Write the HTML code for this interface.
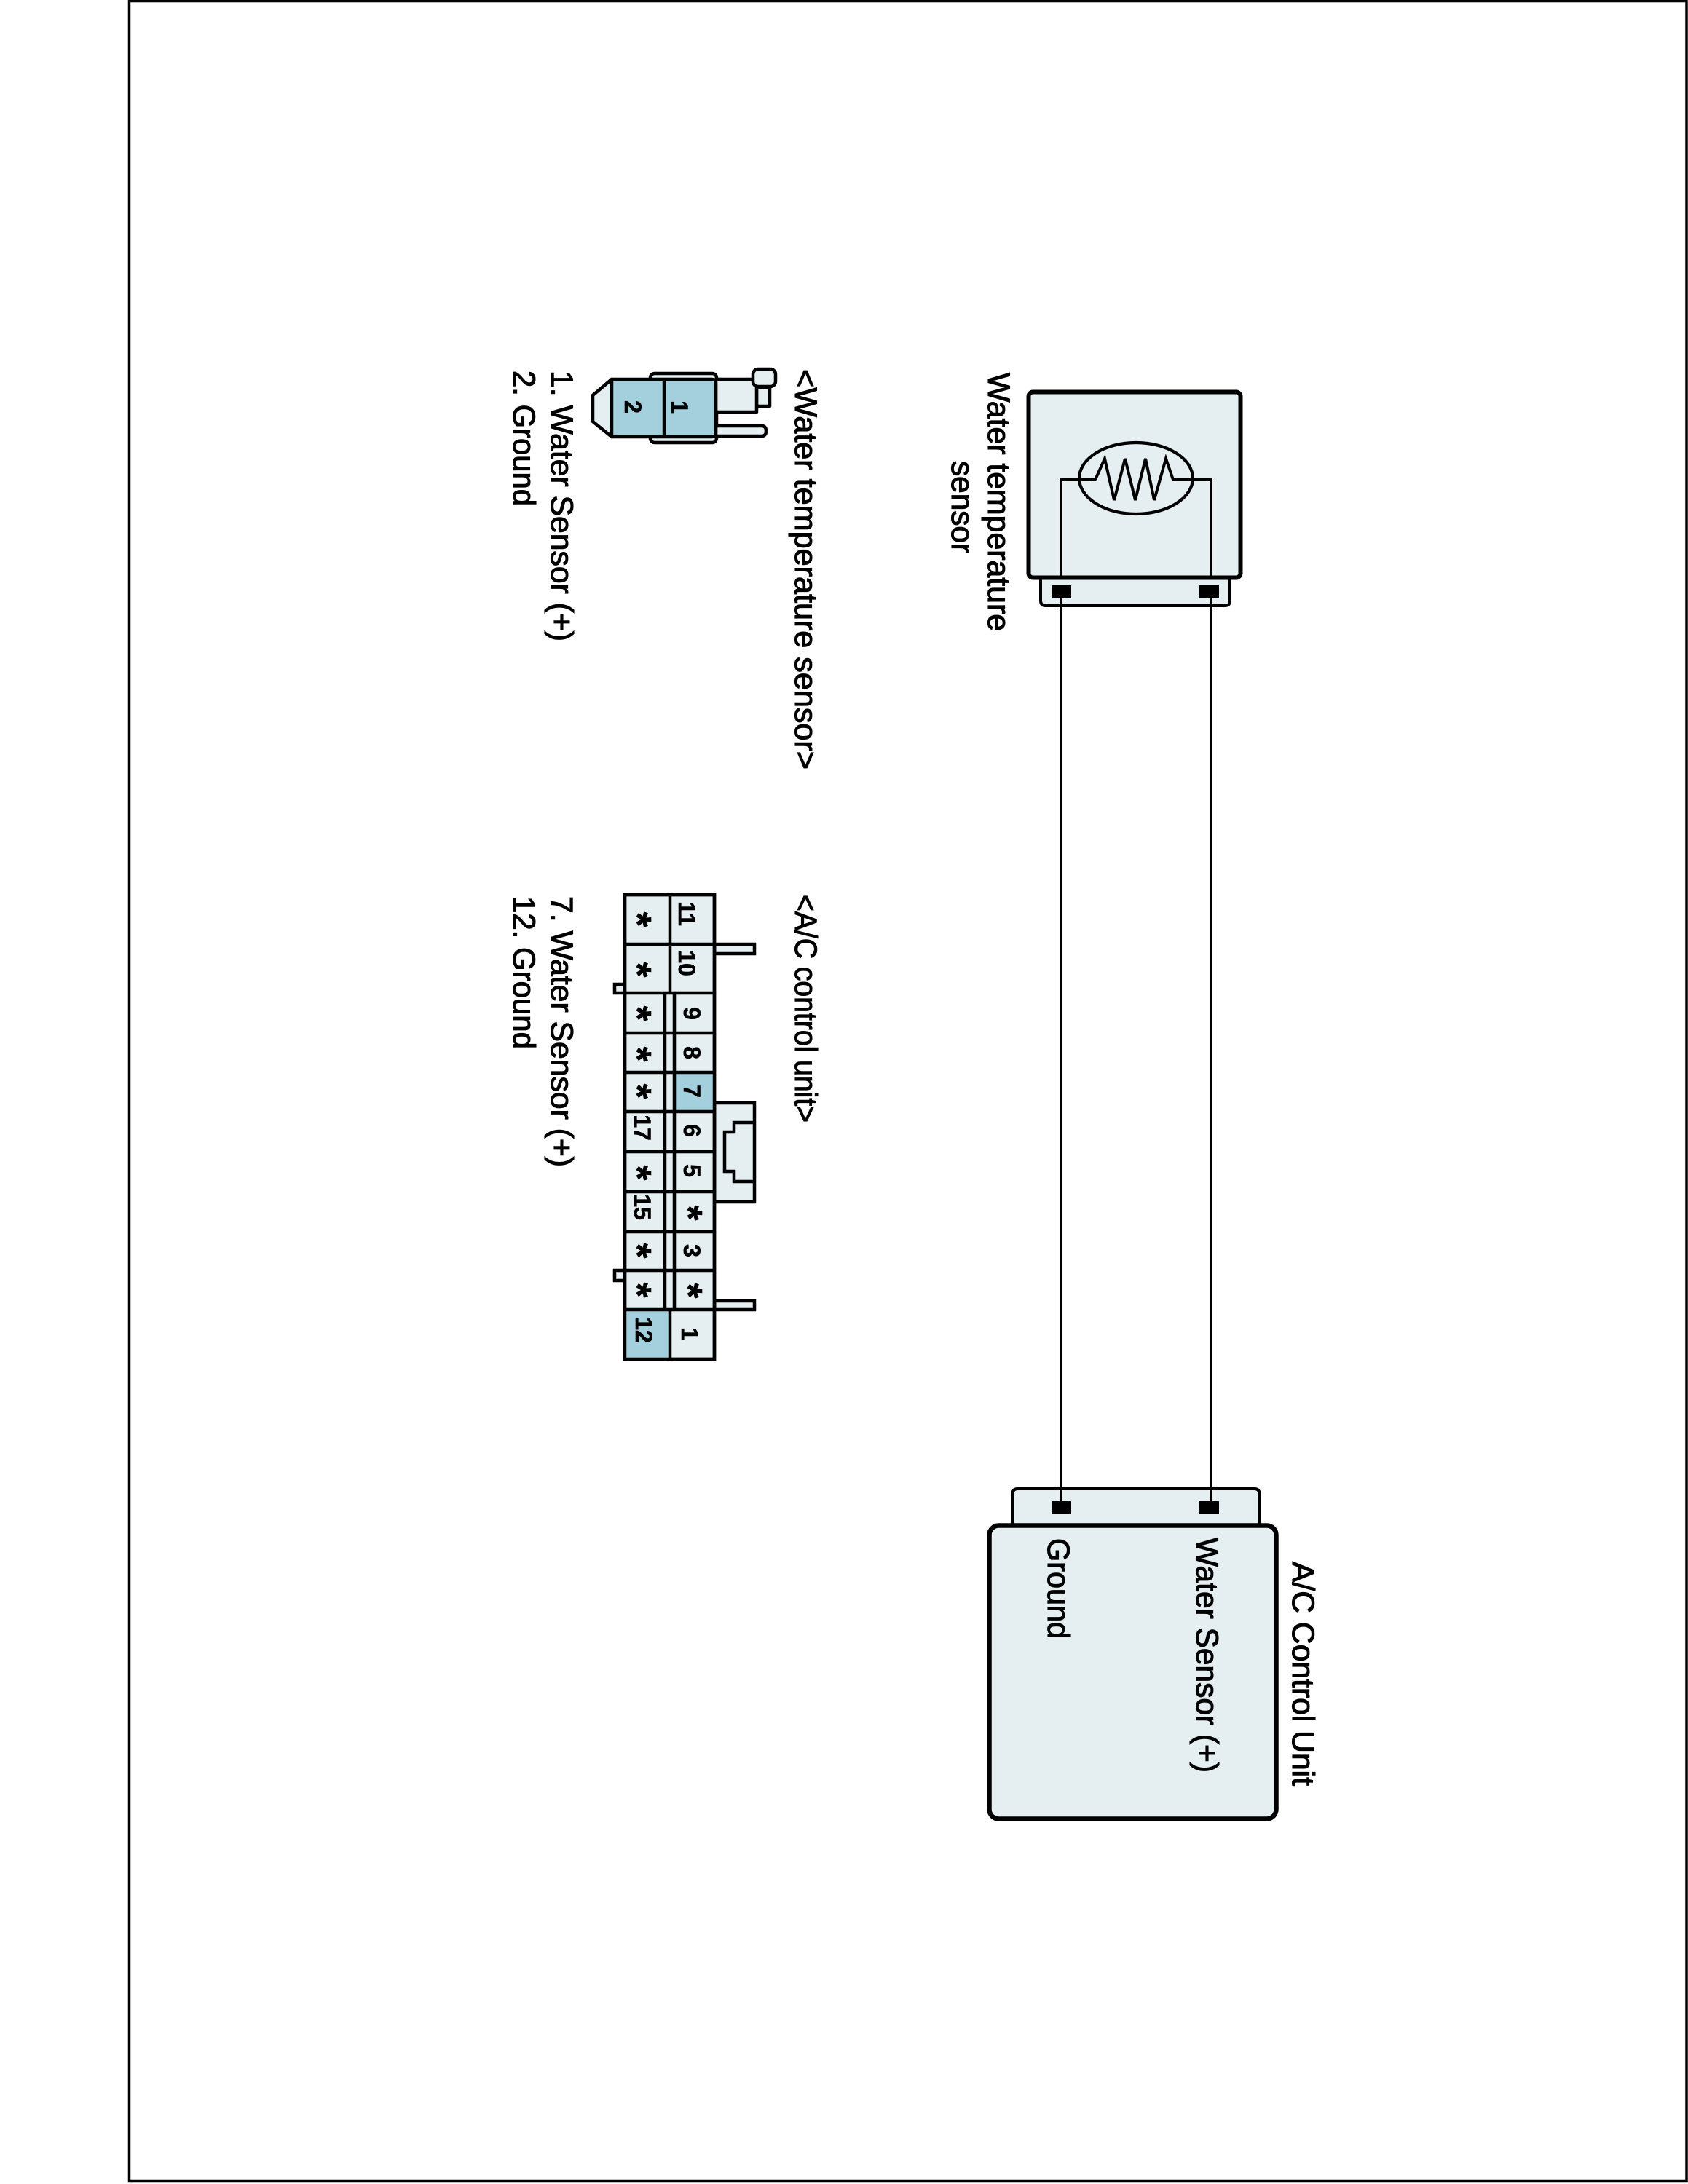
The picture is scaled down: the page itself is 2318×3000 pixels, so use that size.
<!DOCTYPE html>
<html>
<head>
<meta charset="utf-8">
<style>
html,body{margin:0;padding:0;background:#fff;}
svg{display:block;}
text{font-family:"Liberation Sans",Arial,sans-serif;fill:#000;}
.l{font-size:42.5px;stroke:#000;stroke-width:1.1px;}
.d{font-size:32px;font-weight:bold;text-anchor:middle;stroke:#000;stroke-width:.6px;}
.a{font-size:54px;font-weight:bold;text-anchor:middle;stroke:#000;stroke-width:.6px;}
</style>
</head>
<body>
<svg xmlns="http://www.w3.org/2000/svg" width="2318" height="3000" viewBox="0 0 2318 3000">
<rect width="2318" height="3000" fill="#fff"/>
<!-- page border -->
<path d="M177.5 1.5 H2316 V2995.5 H177.5 Z" fill="none" stroke="#000" stroke-width="3.5"/>

<!-- sensor box -->
<g stroke="#000" fill="#e5eef0">
<path d="M1429 790 V825 Q1429 832 1436 832 H1682 Q1689 832 1689 825 V790 Z" stroke-width="4"/>
<rect x="1412.5" y="538.5" width="291" height="255" rx="6" stroke-width="6"/>
<ellipse cx="1560" cy="657" rx="78" ry="49" stroke-width="4.2"/>
</g>
<path d="M1457 793 V659 H1504 L1517 630 L1530 687 L1545 630 L1559 687 L1573 630 L1585 687 L1601 630 L1611 659 H1663 V793" fill="none" stroke="#000" stroke-width="4"/>
<rect x="1444" y="803" width="27" height="18" fill="#000"/>
<rect x="1647" y="803" width="27" height="18" fill="#000"/>

<!-- wires -->
<path d="M1457 815 V2070 M1663 815 V2070" fill="none" stroke="#000" stroke-width="4"/>

<!-- ACU -->
<g stroke="#000" fill="#e5eef0">
<path d="M1390.5 2100 V2052 Q1390.5 2045 1397.5 2045 H1722.5 Q1729.5 2045 1729.5 2052 V2100 Z" stroke-width="4"/>
<path d="M1457 2040 V2070 M1663 2040 V2070" fill="none" stroke-width="4"/>
<rect x="1358.5" y="2095.5" width="394" height="403" rx="13" stroke-width="6.5"/>
</g>
<rect x="1444" y="2062" width="27" height="17" fill="#000"/>
<rect x="1647" y="2062" width="27" height="17" fill="#000"/>

<!-- labels main -->
<text class="l" transform="translate(1357,512) rotate(90)" textLength="355" lengthAdjust="spacingAndGlyphs">Water temperature</text>
<text class="l" transform="translate(1307,633) rotate(90)" textLength="127" lengthAdjust="spacingAndGlyphs">sensor</text>
<text class="l" transform="translate(1775,2145) rotate(90)" textLength="308" lengthAdjust="spacingAndGlyphs">A/C Control Unit</text>
<text class="l" transform="translate(1643,2112) rotate(90)" textLength="323" lengthAdjust="spacingAndGlyphs">Water Sensor (+)</text>
<text class="l" transform="translate(1439,2113) rotate(90)" textLength="138" lengthAdjust="spacingAndGlyphs">Ground</text>

<text class="l" transform="translate(1092,507) rotate(90)" textLength="550" lengthAdjust="spacingAndGlyphs">&lt;Water temperature sensor&gt;</text>
<text class="l" transform="translate(757,509) rotate(90)" textLength="372" lengthAdjust="spacingAndGlyphs">1. Water Sensor (+)</text>
<text class="l" transform="translate(705,509) rotate(90)" textLength="186" lengthAdjust="spacingAndGlyphs">2. Ground</text>

<text class="l" transform="translate(1092,1229) rotate(90)" textLength="313" lengthAdjust="spacingAndGlyphs">&lt;A/C control unit&gt;</text>
<text class="l" transform="translate(757,1231) rotate(90)" textLength="372" lengthAdjust="spacingAndGlyphs">7. Water Sensor (+)</text>
<text class="l" transform="translate(705,1231) rotate(90)" textLength="210" lengthAdjust="spacingAndGlyphs">12. Ground</text>

<!-- small sensor connector -->
<g stroke="#000" stroke-width="4.5" stroke-linejoin="round">
<rect x="893" y="513" width="91" height="95" rx="6" fill="#e5eef0"/>
<rect x="1039" y="532" width="18" height="26" fill="#e5eef0"/>
<rect x="983" y="521" width="56" height="45" fill="#e5eef0"/>
<rect x="1034" y="507" width="31" height="24" rx="7" fill="#e5eef0"/>
<path d="M983 585 H1046 Q1052 585 1052 592 Q1052 599 1046 599 H983 Z" fill="#e5eef0"/>
<path d="M840 521 L814 543 V579 L840 600 Z" fill="#e5eef0"/>
<path d="M840 521 H977 Q983 521 983 527 V594 Q983 600 977 600 H840 Z" fill="#a3d0dc"/>
<path d="M912 521 V600" fill="none"/>
</g>
<text class="d" transform="translate(922,559) rotate(90)">1</text>
<text class="d" transform="translate(858,559) rotate(90)">2</text>

<!-- AC connector -->
<g stroke="#000" stroke-width="4.5" fill="#e5eef0">
<rect x="981" y="1297" width="55" height="13"/>
<rect x="981" y="1787" width="55" height="12"/>
<rect x="844" y="1352" width="14" height="12"/>
<rect x="844" y="1745" width="14" height="14"/>
<rect x="981" y="1515" width="55" height="136"/>
<path d="M1036 1542 H1008 V1555 H995 V1609 H1008 V1623 H1036" fill="none"/>
<rect x="858" y="1229" width="123" height="638"/>
</g>
<rect x="926" y="1473" width="55" height="54" fill="#a3d0dc"/>
<rect x="858" y="1799" width="62" height="68" fill="#a3d0dc"/>
<path d="M858 1229 H981 V1867 H858 Z
M858 1297 H981 M858 1364 H981 M858 1419 H981 M858 1473 H981 M858 1527 H981 M858 1582 H981 M858 1637 H981 M858 1692 H981 M858 1745 H981 M858 1799 H981
M920 1229 V1364 M920 1799 V1867
M913 1364 V1799 M926 1364 V1799" fill="none" stroke="#000" stroke-width="4.5"/>

<text class="d" transform="translate(932,1255) rotate(90)">11</text>
<text class="d" transform="translate(932,1323) rotate(90)">10</text>
<text class="d" transform="translate(939,1392) rotate(90)">9</text>
<text class="d" transform="translate(939,1446) rotate(90)">8</text>
<text class="d" transform="translate(939,1499) rotate(90)">7</text>
<text class="d" transform="translate(939,1553) rotate(90)">6</text>
<text class="d" transform="translate(939,1608) rotate(90)">5</text>
<text class="d" transform="translate(939,1718) rotate(90)">3</text>
<text class="d" transform="translate(936,1832) rotate(90)">1</text>
<text class="d" transform="translate(871,1549) rotate(90)">17</text>
<text class="d" transform="translate(871,1658) rotate(90)">15</text>
<text class="d" transform="translate(873,1827) rotate(90)">12</text>

<text class="a" transform="translate(857,1263) rotate(90)">*</text>
<text class="a" transform="translate(857,1332) rotate(90)">*</text>
<text class="a" transform="translate(857,1392) rotate(90)">*</text>
<text class="a" transform="translate(857,1448) rotate(90)">*</text>
<text class="a" transform="translate(857,1499) rotate(90)">*</text>
<text class="a" transform="translate(857,1611) rotate(90)">*</text>
<text class="a" transform="translate(857,1718) rotate(90)">*</text>
<text class="a" transform="translate(857,1772) rotate(90)">*</text>
<text class="a" transform="translate(927,1666) rotate(90)">*</text>
<text class="a" transform="translate(927,1773) rotate(90)">*</text>
</svg>
</body>
</html>
